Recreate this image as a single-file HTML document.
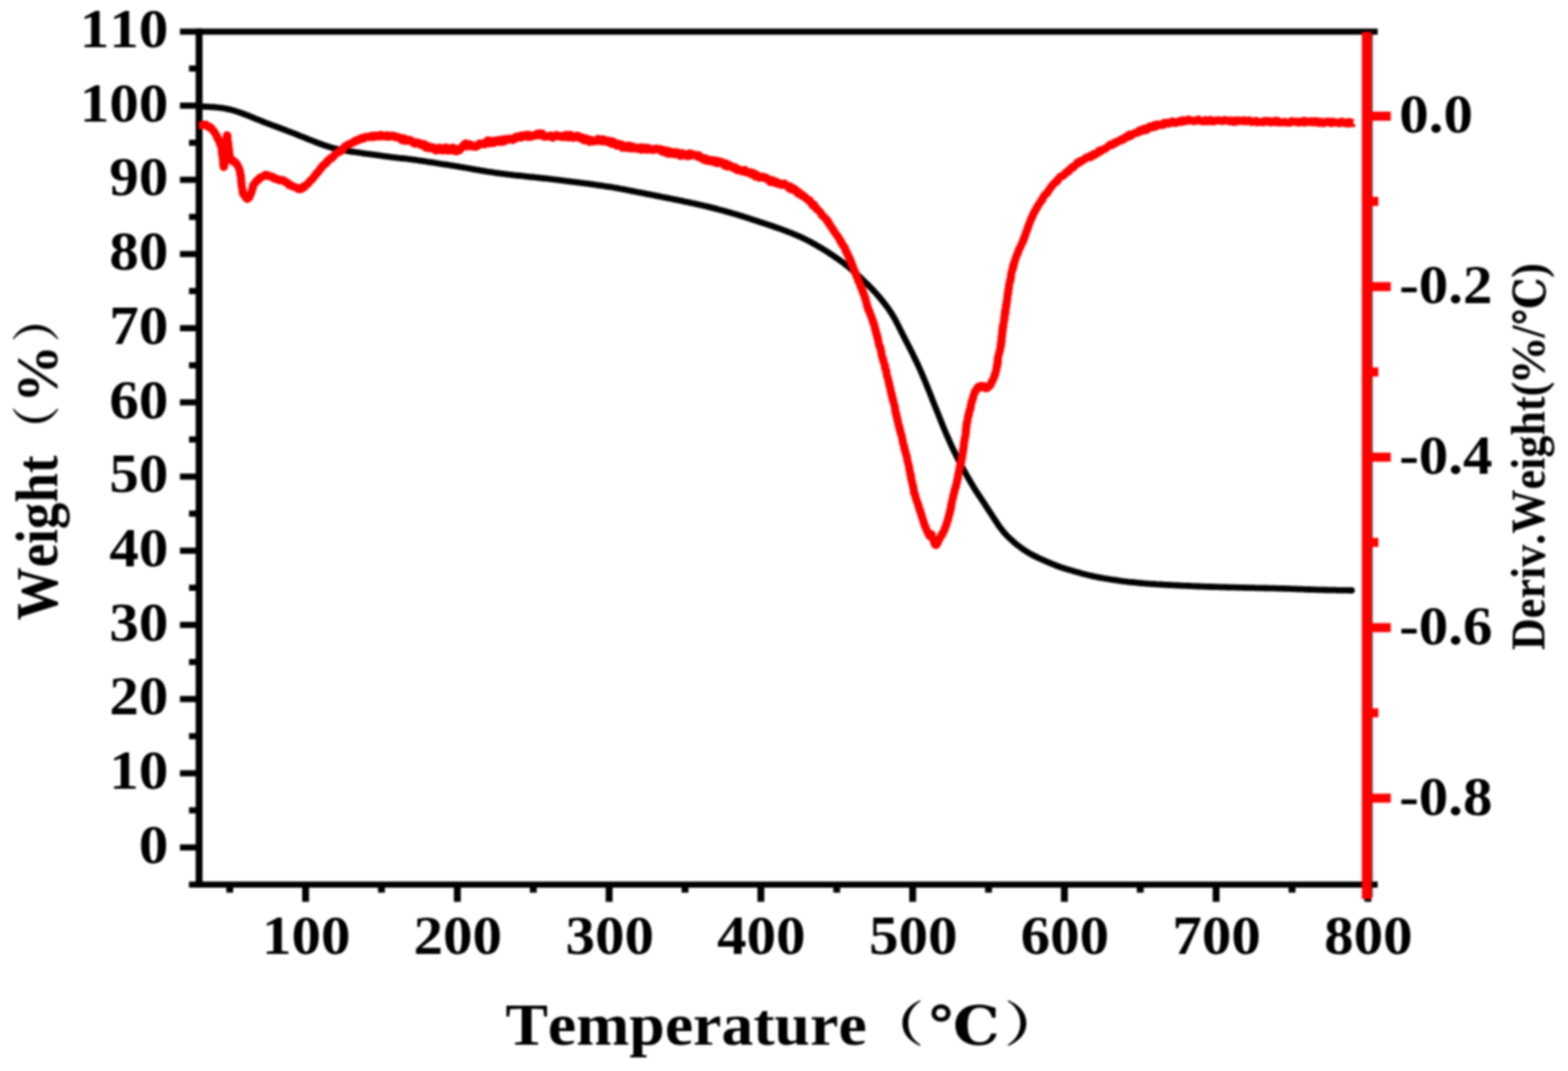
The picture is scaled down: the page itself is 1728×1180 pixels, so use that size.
<!DOCTYPE html>
<html lang="en"><head><meta charset="utf-8"><title>TG / DTG curve</title>
<style>html,body{margin:0;padding:0;background:#fff;}body{width:1728px;height:1180px;overflow:hidden;}svg{display:block;}text{font-family:"Liberation Serif","Noto Serif CJK SC",serif;font-weight:bold;fill:#000;font-kerning:none;}</style>
</head><body>
<svg width="1728" height="1180" viewBox="0 0 1728 1180">
<rect width="1728" height="1180" fill="#fff"/>
<defs><filter id="soft" x="0" y="0" width="1728" height="1180" filterUnits="userSpaceOnUse" color-interpolation-filters="sRGB"><feGaussianBlur stdDeviation="1"/></filter></defs>
<g filter="url(#soft)">
<g id="plot">
<g stroke="#000" stroke-width="6.8" fill="none">
<line x1="198.3" y1="34.8" x2="1518.3" y2="34.8"/>
<line x1="208.3" y1="974.7" x2="1518.3" y2="974.7"/>
<line x1="198.3" y1="933.7" x2="219.4" y2="933.7"/>
<line x1="208.3" y1="892.8" x2="219.4" y2="892.8"/>
<line x1="198.3" y1="852.0" x2="219.4" y2="852.0"/>
<line x1="208.3" y1="811.1" x2="219.4" y2="811.1"/>
<line x1="198.3" y1="770.2" x2="219.4" y2="770.2"/>
<line x1="208.3" y1="729.4" x2="219.4" y2="729.4"/>
<line x1="198.3" y1="688.5" x2="219.4" y2="688.5"/>
<line x1="208.3" y1="647.6" x2="219.4" y2="647.6"/>
<line x1="198.3" y1="606.8" x2="219.4" y2="606.8"/>
<line x1="208.3" y1="565.9" x2="219.4" y2="565.9"/>
<line x1="198.3" y1="525.1" x2="219.4" y2="525.1"/>
<line x1="208.3" y1="484.2" x2="219.4" y2="484.2"/>
<line x1="198.3" y1="443.3" x2="219.4" y2="443.3"/>
<line x1="208.3" y1="402.5" x2="219.4" y2="402.5"/>
<line x1="198.3" y1="361.6" x2="219.4" y2="361.6"/>
<line x1="208.3" y1="320.7" x2="219.4" y2="320.7"/>
<line x1="198.3" y1="279.9" x2="219.4" y2="279.9"/>
<line x1="208.3" y1="239.0" x2="219.4" y2="239.0"/>
<line x1="198.3" y1="198.1" x2="219.4" y2="198.1"/>
<line x1="208.3" y1="157.3" x2="219.4" y2="157.3"/>
<line x1="198.3" y1="116.4" x2="219.4" y2="116.4"/>
<line x1="208.3" y1="75.5" x2="219.4" y2="75.5"/>
</g>
<g stroke="#000" stroke-width="7.6" fill="none">
<line x1="219.4" y1="31.4" x2="219.4" y2="978.1"/>
<line x1="253.2" y1="974.7" x2="253.2" y2="983.5"/>
<line x1="336.8" y1="974.7" x2="336.8" y2="993.6"/>
<line x1="420.4" y1="974.7" x2="420.4" y2="983.5"/>
<line x1="504.0" y1="974.7" x2="504.0" y2="993.6"/>
<line x1="587.7" y1="974.7" x2="587.7" y2="983.5"/>
<line x1="671.3" y1="974.7" x2="671.3" y2="993.6"/>
<line x1="754.9" y1="974.7" x2="754.9" y2="983.5"/>
<line x1="838.5" y1="974.7" x2="838.5" y2="993.6"/>
<line x1="922.1" y1="974.7" x2="922.1" y2="983.5"/>
<line x1="1005.8" y1="974.7" x2="1005.8" y2="993.6"/>
<line x1="1089.4" y1="974.7" x2="1089.4" y2="983.5"/>
<line x1="1173.0" y1="974.7" x2="1173.0" y2="993.6"/>
<line x1="1256.6" y1="974.7" x2="1256.6" y2="983.5"/>
<line x1="1340.2" y1="974.7" x2="1340.2" y2="993.6"/>
<line x1="1423.9" y1="974.7" x2="1423.9" y2="983.5"/>
<line x1="1507.5" y1="974.7" x2="1507.5" y2="993.6"/>
</g>
<line x1="1511.7" y1="36" x2="1511.7" y2="989" stroke="#4a0d0d" stroke-width="2.2" opacity="0.8"/>
<g stroke="#f00" fill="none">
<line x1="1506.1" y1="35.2" x2="1506.1" y2="990.5" stroke-width="10.6"/>
<g stroke-width="10.0">
<line x1="1506.5" y1="128.0" x2="1532.7" y2="128.0"/>
<line x1="1506.5" y1="221.9" x2="1519" y2="221.9"/>
<line x1="1506.5" y1="315.8" x2="1532.7" y2="315.8"/>
<line x1="1506.5" y1="409.8" x2="1519" y2="409.8"/>
<line x1="1506.5" y1="503.7" x2="1532.7" y2="503.7"/>
<line x1="1506.5" y1="597.6" x2="1519" y2="597.6"/>
<line x1="1506.5" y1="691.5" x2="1532.7" y2="691.5"/>
<line x1="1506.5" y1="785.4" x2="1519" y2="785.4"/>
<line x1="1506.5" y1="879.4" x2="1532.7" y2="879.4"/>
</g>
</g>
<polyline fill="none" stroke="#000" stroke-width="6.8" stroke-linejoin="round" stroke-linecap="round" points="219.7,117.2 221.7,117.3 223.7,117.4 225.7,117.5 227.7,117.6 229.7,117.7 231.7,117.8 233.7,117.9 235.7,118.0 237.7,118.2 239.7,118.3 241.7,118.6 243.7,118.8 245.7,119.1 247.7,119.5 249.7,119.9 251.7,120.3 253.7,120.7 255.7,121.3 257.7,121.8 259.7,122.4 261.7,123.1 263.7,123.8 265.7,124.5 267.7,125.2 269.7,126.0 271.7,126.7 273.7,127.5 275.7,128.3 277.7,129.2 279.7,130.0 281.7,130.8 283.7,131.6 285.7,132.4 287.7,133.2 289.7,134.0 291.7,134.8 293.7,135.6 295.7,136.3 297.7,137.1 299.7,137.8 301.7,138.6 303.7,139.3 305.7,140.0 307.7,140.8 309.7,141.5 311.7,142.3 313.7,143.0 315.7,143.8 317.7,144.6 319.7,145.3 321.7,146.1 323.7,146.9 325.7,147.7 327.7,148.5 329.7,149.3 331.7,150.1 333.7,150.9 335.7,151.7 337.7,152.5 339.7,153.3 341.7,154.1 343.7,154.9 345.7,155.7 347.7,156.5 349.7,157.3 351.7,158.0 353.7,158.7 355.7,159.5 357.7,160.2 359.7,160.8 361.7,161.5 363.7,162.1 365.7,162.7 367.7,163.2 369.7,163.7 371.7,164.2 373.7,164.7 375.7,165.1 377.7,165.5 379.7,165.9 381.7,166.2 383.7,166.5 385.7,166.8 387.7,167.1 389.7,167.4 391.7,167.7 393.7,167.9 395.7,168.2 397.7,168.5 399.7,168.8 401.7,169.1 403.7,169.4 405.7,169.6 407.7,169.9 409.7,170.2 411.7,170.4 413.7,170.7 415.7,171.0 417.7,171.2 419.7,171.5 421.7,171.8 423.7,172.1 425.7,172.4 427.7,172.7 429.7,172.9 431.7,173.2 433.7,173.4 435.7,173.6 437.7,173.9 439.7,174.1 441.7,174.3 443.7,174.5 445.7,174.7 447.7,174.9 449.7,175.2 451.7,175.4 453.7,175.7 455.7,176.0 457.7,176.2 459.7,176.5 461.7,176.8 463.7,177.1 465.7,177.4 467.7,177.7 469.7,178.0 471.7,178.3 473.7,178.6 475.7,178.9 477.7,179.2 479.7,179.5 481.7,179.8 483.7,180.1 485.7,180.5 487.7,180.8 489.7,181.1 491.7,181.4 493.7,181.7 495.7,182.0 497.7,182.3 499.7,182.7 501.7,183.0 503.7,183.3 505.7,183.6 507.7,184.0 509.7,184.3 511.7,184.7 513.7,185.0 515.7,185.4 517.7,185.7 519.7,186.1 521.7,186.4 523.7,186.8 525.7,187.1 527.7,187.4 529.7,187.8 531.7,188.1 533.7,188.4 535.7,188.8 537.7,189.1 539.7,189.4 541.7,189.7 543.7,190.0 545.7,190.3 547.7,190.6 549.7,190.9 551.7,191.2 553.7,191.4 555.7,191.7 557.7,191.9 559.7,192.2 561.7,192.4 563.7,192.6 565.7,192.9 567.7,193.1 569.7,193.3 571.7,193.5 573.7,193.7 575.7,193.9 577.7,194.1 579.7,194.4 581.7,194.6 583.7,194.8 585.7,195.0 587.7,195.2 589.7,195.4 591.7,195.6 593.7,195.8 595.7,196.0 597.7,196.3 599.7,196.5 601.7,196.7 603.7,196.9 605.7,197.2 607.7,197.4 609.7,197.7 611.7,197.9 613.7,198.1 615.7,198.4 617.7,198.6 619.7,198.9 621.7,199.1 623.7,199.4 625.7,199.6 627.7,199.8 629.7,200.1 631.7,200.3 633.7,200.6 635.7,200.8 637.7,201.1 639.7,201.4 641.7,201.6 643.7,201.9 645.7,202.1 647.7,202.4 649.7,202.7 651.7,203.0 653.7,203.2 655.7,203.5 657.7,203.8 659.7,204.1 661.7,204.4 663.7,204.7 665.7,205.0 667.7,205.3 669.7,205.6 671.7,205.9 673.7,206.2 675.7,206.5 677.7,206.9 679.7,207.2 681.7,207.6 683.7,208.0 685.7,208.3 687.7,208.7 689.7,209.1 691.7,209.5 693.7,209.9 695.7,210.3 697.7,210.7 699.7,211.1 701.7,211.5 703.7,211.9 705.7,212.2 707.7,212.6 709.7,213.0 711.7,213.4 713.7,213.8 715.7,214.2 717.7,214.6 719.7,215.0 721.7,215.4 723.7,215.8 725.7,216.2 727.7,216.6 729.7,217.0 731.7,217.4 733.7,217.8 735.7,218.2 737.7,218.6 739.7,219.0 741.7,219.4 743.7,219.8 745.7,220.2 747.7,220.6 749.7,221.0 751.7,221.4 753.7,221.9 755.7,222.3 757.7,222.7 759.7,223.1 761.7,223.6 763.7,224.0 765.7,224.4 767.7,224.9 769.7,225.3 771.7,225.8 773.7,226.2 775.7,226.7 777.7,227.2 779.7,227.6 781.7,228.1 783.7,228.6 785.7,229.1 787.7,229.6 789.7,230.1 791.7,230.7 793.7,231.2 795.7,231.8 797.7,232.3 799.7,232.9 801.7,233.4 803.7,234.0 805.7,234.6 807.7,235.2 809.7,235.7 811.7,236.3 813.7,236.9 815.7,237.6 817.7,238.2 819.7,238.8 821.7,239.4 823.7,240.1 825.7,240.7 827.7,241.4 829.7,242.0 831.7,242.7 833.7,243.3 835.7,244.0 837.7,244.7 839.7,245.3 841.7,246.0 843.7,246.6 845.7,247.3 847.7,248.0 849.7,248.6 851.7,249.3 853.7,250.0 855.7,250.7 857.7,251.4 859.7,252.1 861.7,252.8 863.7,253.6 865.7,254.3 867.7,255.1 869.7,255.9 871.7,256.6 873.7,257.4 875.7,258.3 877.7,259.1 879.7,260.0 881.7,260.8 883.7,261.8 885.7,262.7 887.7,263.7 889.7,264.7 891.7,265.7 893.7,266.8 895.7,267.9 897.7,269.0 899.7,270.2 901.7,271.4 903.7,272.5 905.7,273.7 907.7,275.0 909.7,276.2 911.7,277.5 913.7,278.7 915.7,280.1 917.7,281.4 919.7,282.8 921.7,284.1 923.7,285.5 925.7,287.0 927.7,288.4 929.7,289.9 931.7,291.5 933.7,293.0 935.7,294.7 937.7,296.3 939.7,298.1 941.7,299.8 943.7,301.6 945.7,303.5 947.7,305.3 949.7,307.2 951.7,309.1 953.7,311.1 955.7,313.0 957.7,315.0 959.7,317.1 961.7,319.2 963.7,321.3 965.7,323.5 967.7,325.8 969.7,328.1 971.7,330.6 973.7,333.0 975.7,335.6 977.7,338.3 979.7,341.1 981.7,344.1 983.7,347.3 985.7,350.7 987.7,354.4 989.7,358.3 991.7,362.2 993.7,366.2 995.7,370.2 997.7,374.1 999.7,378.0 1001.7,381.9 1003.7,385.8 1005.7,389.8 1007.7,393.9 1009.7,398.0 1011.7,402.3 1013.7,406.7 1015.7,411.2 1017.7,415.9 1019.7,420.7 1021.7,425.6 1023.7,430.6 1025.7,435.6 1027.7,440.7 1029.7,445.7 1031.7,450.7 1033.7,455.8 1035.7,460.8 1037.7,465.8 1039.7,470.7 1041.7,475.5 1043.7,480.2 1045.7,484.7 1047.7,489.1 1049.7,493.4 1051.7,497.6 1053.7,501.7 1055.7,505.7 1057.7,509.6 1059.7,513.3 1061.7,517.1 1063.7,520.7 1065.7,524.3 1067.7,527.8 1069.7,531.3 1071.7,534.6 1073.7,537.9 1075.7,541.1 1077.7,544.2 1079.7,547.2 1081.7,550.2 1083.7,553.2 1085.7,556.2 1087.7,559.3 1089.7,562.3 1091.7,565.4 1093.7,568.5 1095.7,571.6 1097.7,574.7 1099.7,577.7 1101.7,580.5 1103.7,583.2 1105.7,585.7 1107.7,588.0 1109.7,590.1 1111.7,592.1 1113.7,594.0 1115.7,595.8 1117.7,597.6 1119.7,599.3 1121.7,600.9 1123.7,602.4 1125.7,603.9 1127.7,605.3 1129.7,606.6 1131.7,607.9 1133.7,609.1 1135.7,610.3 1137.7,611.4 1139.7,612.4 1141.7,613.4 1143.7,614.4 1145.7,615.3 1147.7,616.2 1149.7,617.1 1151.7,618.0 1153.7,618.8 1155.7,619.7 1157.7,620.5 1159.7,621.4 1161.7,622.2 1163.7,623.0 1165.7,623.8 1167.7,624.5 1169.7,625.2 1171.7,625.8 1173.7,626.5 1175.7,627.1 1177.7,627.7 1179.7,628.3 1181.7,628.8 1183.7,629.4 1185.7,630.0 1187.7,630.5 1189.7,631.1 1191.7,631.7 1193.7,632.2 1195.7,632.7 1197.7,633.2 1199.7,633.7 1201.7,634.2 1203.7,634.6 1205.7,635.1 1207.7,635.5 1209.7,635.9 1211.7,636.3 1213.7,636.7 1215.7,637.0 1217.7,637.4 1219.7,637.7 1221.7,638.0 1223.7,638.4 1225.7,638.7 1227.7,639.0 1229.7,639.2 1231.7,639.5 1233.7,639.8 1235.7,640.1 1237.7,640.3 1239.7,640.6 1241.7,640.8 1243.7,641.1 1245.7,641.3 1247.7,641.5 1249.7,641.7 1251.7,641.9 1253.7,642.1 1255.7,642.3 1257.7,642.5 1259.7,642.7 1261.7,642.8 1263.7,643.0 1265.7,643.1 1267.7,643.3 1269.7,643.4 1271.7,643.5 1273.7,643.7 1275.7,643.8 1277.7,643.9 1279.7,644.0 1281.7,644.1 1283.7,644.3 1285.7,644.4 1287.7,644.5 1289.7,644.6 1291.7,644.7 1293.7,644.8 1295.7,644.9 1297.7,645.0 1299.7,645.1 1301.7,645.2 1303.7,645.3 1305.7,645.4 1307.7,645.4 1309.7,645.5 1311.7,645.6 1313.7,645.7 1315.7,645.8 1317.7,645.9 1319.7,646.0 1321.7,646.0 1323.7,646.1 1325.7,646.2 1327.7,646.3 1329.7,646.3 1331.7,646.4 1333.7,646.5 1335.7,646.5 1337.7,646.6 1339.7,646.7 1341.7,646.7 1343.7,646.8 1345.7,646.8 1347.7,646.9 1349.7,646.9 1351.7,647.0 1353.7,647.1 1355.7,647.1 1357.7,647.1 1359.7,647.2 1361.7,647.2 1363.7,647.3 1365.7,647.3 1367.7,647.4 1369.7,647.4 1371.7,647.5 1373.7,647.5 1375.7,647.6 1377.7,647.6 1379.7,647.7 1381.7,647.7 1383.7,647.8 1385.7,647.8 1387.7,647.8 1389.7,647.9 1391.7,647.9 1393.7,648.0 1395.7,648.0 1397.7,648.1 1399.7,648.1 1401.7,648.1 1403.7,648.2 1405.7,648.2 1407.7,648.3 1409.7,648.3 1411.7,648.4 1413.7,648.4 1415.7,648.5 1417.7,648.6 1419.7,648.6 1421.7,648.7 1423.7,648.8 1425.7,648.8 1427.7,648.9 1429.7,649.0 1431.7,649.1 1433.7,649.1 1435.7,649.2 1437.7,649.3 1439.7,649.4 1441.7,649.5 1443.7,649.5 1445.7,649.6 1447.7,649.7 1449.7,649.7 1451.7,649.8 1453.7,649.8 1455.7,649.9 1457.7,649.9 1459.7,650.0 1461.7,650.0 1463.7,650.1 1465.7,650.1 1467.7,650.2 1469.7,650.2 1471.7,650.2 1473.7,650.3 1475.7,650.3 1477.7,650.3 1479.7,650.4 1481.7,650.4 1483.7,650.4 1485.7,650.4 1487.7,650.5 1489.7,650.5"/>
<polyline fill="none" stroke="#f00" stroke-width="8.7" stroke-linejoin="round" stroke-linecap="butt" points="219.0,138.4 219.7,138.4 220.7,138.3 221.8,137.7 223.1,137.4 224.4,137.2 225.7,137.8 226.9,137.3 228.0,138.7 229.0,138.9 229.9,140.2 230.8,140.5 231.6,139.9 232.6,141.0 233.4,141.6 234.2,143.2 234.8,144.0 235.5,144.1 236.2,145.8 236.9,146.3 237.3,147.4 238.1,148.8 238.6,149.2 239.3,150.6 239.5,151.8 239.9,153.1 240.7,153.5 241.1,154.4 241.6,155.3 242.0,157.0 242.2,158.1 242.8,159.1 243.1,160.0 243.7,161.3 243.8,162.2 244.2,163.2 244.6,164.6 244.2,165.8 244.7,166.8 244.7,167.9 244.5,169.2 245.2,170.4 244.9,171.6 245.6,172.8 245.3,173.8 245.8,175.0 246.0,176.5 245.8,177.9 246.4,179.5 245.9,181.2 246.1,182.3 246.5,183.3 246.5,184.1 246.8,183.4 247.0,183.6 247.2,183.1 247.2,182.1 246.8,181.1 247.6,179.9 247.7,178.6 247.4,177.1 247.7,175.5 247.3,174.0 247.5,172.6 247.5,171.2 247.7,169.9 248.0,168.8 248.5,167.6 248.0,166.4 248.3,165.1 248.2,163.9 249.1,162.7 248.7,161.4 248.5,160.1 248.7,159.0 248.7,157.9 249.5,156.7 248.9,155.9 248.9,155.0 249.9,153.3 249.8,151.8 249.7,150.3 250.2,149.3 250.2,149.0 250.2,148.8 250.8,149.5 250.8,150.2 250.9,151.1 250.8,152.0 250.5,153.2 250.8,154.5 251.3,155.9 251.3,157.5 251.9,158.8 251.5,160.1 251.5,161.0 251.6,162.1 252.3,163.4 252.1,164.7 252.5,166.0 252.5,167.1 252.7,168.5 252.6,169.7 253.1,170.6 253.2,171.7 253.1,172.9 253.7,173.4 253.8,175.2 254.6,175.2 255.5,177.1 256.3,176.3 257.0,178.3 257.8,177.8 258.5,177.8 259.4,179.8 260.3,179.7 261.2,180.7 261.3,181.9 261.7,182.1 262.3,183.1 262.6,184.1 263.4,185.1 263.5,186.3 264.2,187.7 264.6,188.7 264.6,190.0 264.5,191.2 264.8,192.2 265.5,193.2 265.4,194.4 265.6,195.8 265.6,196.9 266.0,198.2 265.8,199.4 265.7,200.6 266.0,201.9 266.3,203.0 266.1,204.1 266.3,205.0 266.7,206.4 266.8,207.7 267.3,208.9 267.5,210.2 267.3,211.4 268.0,212.2 267.8,213.4 268.4,213.6 268.8,214.7 269.7,215.7 270.5,217.5 271.1,217.3 271.8,218.7 272.5,219.3 273.3,217.7 273.9,217.5 274.8,217.5 275.4,215.4 276.0,214.6 276.6,213.1 276.7,212.7 277.3,211.5 277.5,210.2 277.8,209.3 278.4,207.9 278.7,207.1 278.5,205.5 279.2,204.3 279.3,203.5 280.3,202.7 280.7,202.3 281.6,200.5 282.3,200.3 283.0,198.8 283.9,199.0 284.9,197.2 285.7,197.5 286.5,196.0 287.5,195.2 288.4,195.2 289.5,194.8 290.4,193.7 291.4,193.8 292.4,192.6 293.4,192.3 294.6,192.9 295.7,194.1 296.8,193.9 298.0,194.1 299.1,194.3 300.3,195.8 301.3,195.0 302.3,196.9 303.3,197.1 304.3,196.9 305.3,197.1 306.3,198.1 307.3,197.8 308.3,198.8 309.3,198.5 310.2,198.0 311.2,198.2 312.2,198.9 313.2,198.9 314.2,200.9 315.0,200.3 315.9,200.9 316.8,201.3 317.8,202.1 318.6,204.1 319.5,203.4 320.3,204.1 321.2,204.0 322.2,205.5 323.2,205.5 324.1,205.6 325.1,206.2 326.1,206.4 327.1,207.2 328.1,208.0 329.1,208.4 330.1,208.2 331.1,207.3 332.1,208.2 333.1,207.3 334.1,205.5 335.1,206.5 336.0,205.7 336.8,204.0 337.8,203.8 338.6,203.5 339.5,202.3 340.3,201.6 341.0,200.0 342.0,198.9 342.8,198.2 343.4,198.1 344.2,197.3 344.6,196.3 345.6,195.9 346.2,194.6 346.7,194.0 347.5,193.2 348.2,191.4 348.9,191.5 349.9,190.7 350.3,189.5 351.1,188.6 351.8,188.1 352.3,187.1 353.0,185.6 353.8,185.6 354.3,184.5 355.1,182.9 356.0,183.1 356.6,182.2 357.4,181.2 358.1,180.3 358.9,180.2 359.9,179.6 360.6,177.3 361.5,177.8 362.1,176.5 363.0,175.4 363.8,174.7 364.6,173.8 365.4,174.5 366.4,173.6 367.3,173.0 368.2,171.2 368.8,171.0 369.8,169.4 370.6,169.5 371.5,168.3 372.5,167.9 373.4,166.7 374.1,167.5 375.1,166.9 375.9,166.2 376.8,164.6 377.7,164.9 378.5,163.1 379.3,162.2 380.3,161.2 381.2,160.8 381.9,160.0 382.8,159.8 383.8,159.0 384.7,159.3 385.7,158.3 386.7,158.4 387.7,157.5 388.7,157.0 389.7,156.6 390.7,155.3 391.7,156.1 392.7,154.8 393.7,154.0 394.6,155.0 395.6,154.0 396.6,153.5 397.6,152.3 398.6,152.1 399.4,152.4 400.3,153.0 401.1,151.7 402.1,150.9 403.2,151.0 404.6,150.5 405.5,151.1 406.5,151.3 407.6,150.4 408.7,150.2 409.9,149.3 411.1,151.2 412.3,150.0 413.5,150.6 414.8,149.2 416.0,149.4 417.2,150.5 418.4,150.3 419.6,148.4 420.8,150.3 422.0,149.7 423.2,149.3 424.4,150.3 425.6,150.6 426.8,148.8 428.0,149.8 429.1,150.8 430.2,150.3 431.3,150.0 432.3,149.2 433.6,149.8 434.7,150.9 435.8,150.0 436.8,151.4 437.8,150.5 438.8,151.7 439.8,151.7 440.8,152.6 442.0,151.7 443.0,154.5 444.0,154.5 445.0,152.2 446.1,155.3 447.1,153.1 448.2,154.1 449.3,154.1 450.5,155.3 451.6,154.0 452.7,154.7 453.9,156.4 454.9,157.2 455.9,156.4 457.0,158.5 458.0,158.3 459.1,156.5 460.2,157.2 461.3,158.3 462.4,157.7 463.5,159.8 464.5,158.2 465.7,158.8 466.7,158.9 467.8,158.9 469.0,162.5 470.1,162.2 471.3,163.3 472.5,160.8 473.6,163.3 474.7,163.3 475.9,162.5 477.1,162.0 478.2,162.6 479.4,165.5 480.5,165.8 481.7,163.5 482.9,165.5 484.1,162.5 485.3,163.8 486.5,163.1 487.7,165.9 488.9,163.9 490.1,165.3 491.3,162.3 492.4,165.8 493.5,165.1 494.6,163.4 495.6,165.9 496.9,163.2 498.1,163.6 499.2,162.5 500.3,166.3 501.4,166.6 502.4,163.9 503.4,166.8 504.4,164.5 505.3,164.5 506.2,165.9 507.2,164.8 508.0,164.1 508.7,162.7 509.5,161.0 510.2,161.8 511.3,159.2 512.3,158.9 513.2,157.9 514.2,159.1 515.2,161.4 516.3,159.1 517.4,158.6 518.6,161.2 519.7,159.5 520.9,161.2 522.2,161.7 523.4,161.3 524.4,161.8 525.4,160.4 526.4,160.8 527.5,158.6 528.6,157.9 529.6,159.1 530.8,158.0 531.8,158.0 532.9,158.8 534.0,159.1 535.1,156.8 536.2,157.9 537.3,154.6 538.5,154.7 539.6,158.0 540.8,157.7 541.9,157.4 543.1,155.0 544.2,157.7 545.4,156.3 546.6,154.8 547.7,154.5 548.9,154.9 550.0,156.4 551.2,153.8 552.4,156.3 553.5,154.6 554.7,156.3 555.8,153.2 557.0,154.3 558.1,155.0 559.3,152.9 560.5,153.6 561.6,153.0 562.8,152.7 563.9,152.7 565.1,154.4 566.3,152.2 567.4,153.4 568.6,150.4 569.7,151.7 570.9,151.4 572.0,151.4 573.2,149.4 574.4,151.6 575.5,149.2 576.7,150.1 577.8,149.0 579.0,150.3 580.2,148.4 581.3,150.9 582.5,148.3 583.6,151.0 584.8,149.0 585.9,150.5 587.1,150.2 588.3,149.7 589.4,149.4 590.6,147.8 591.7,149.4 592.9,147.0 594.1,148.2 595.2,146.8 596.4,149.4 597.6,147.0 598.7,150.1 599.9,150.8 601.1,150.2 602.3,150.6 603.4,150.1 604.6,150.3 605.7,150.6 606.8,149.0 608.0,150.9 609.1,151.9 610.2,150.6 611.3,150.5 612.4,148.9 613.5,148.6 614.6,150.0 615.7,150.3 616.9,150.6 618.1,149.6 619.3,149.5 620.4,151.3 621.5,151.0 622.7,150.5 623.8,148.4 625.0,149.7 626.3,151.5 627.5,151.1 628.7,148.4 629.9,151.2 631.1,152.0 632.3,151.8 633.5,150.7 634.6,149.8 635.8,151.1 637.0,149.6 638.2,150.4 639.4,152.7 640.5,151.0 641.6,151.2 642.8,153.5 643.9,154.7 645.1,153.9 646.2,152.3 647.3,154.6 648.5,155.5 649.7,156.4 650.8,154.0 652.0,154.4 653.2,155.6 654.4,156.0 655.5,155.3 656.7,155.1 657.9,154.0 659.0,152.9 660.2,155.3 661.3,154.9 662.4,153.5 663.6,155.8 664.8,153.4 666.0,154.0 667.2,154.7 668.4,156.3 669.6,156.7 670.8,155.0 671.9,155.7 673.0,155.4 674.0,158.7 675.0,157.1 676.3,156.0 677.4,158.5 678.4,159.2 679.4,160.7 680.4,158.6 681.4,158.2 682.6,160.0 683.9,159.0 684.9,159.0 685.9,162.9 687.0,160.2 688.2,161.6 689.3,163.0 690.5,161.2 691.8,160.3 693.0,163.4 694.2,160.4 695.4,163.5 696.6,163.6 697.8,161.7 699.0,161.8 700.1,162.3 701.3,163.8 702.4,163.9 703.6,163.3 704.8,164.3 705.9,162.2 707.1,165.1 708.2,164.8 709.4,162.4 710.5,164.4 711.7,164.5 712.9,165.1 714.0,162.7 715.2,164.4 716.3,164.7 717.5,164.1 718.7,165.2 719.8,164.4 721.0,165.1 722.1,163.9 723.3,163.5 724.4,164.0 725.6,164.1 726.8,165.2 727.9,164.2 729.1,167.0 730.2,167.3 731.4,165.1 732.6,166.5 733.7,168.5 734.9,165.8 736.0,169.4 737.2,166.4 738.3,166.7 739.5,169.8 740.7,169.1 741.8,169.3 743.0,167.4 744.1,170.2 745.3,168.7 746.4,167.6 747.6,168.9 748.8,169.4 749.9,171.9 751.1,171.6 752.2,168.5 753.4,170.2 754.6,170.0 755.7,170.9 756.9,172.2 758.0,172.1 759.2,168.9 760.4,172.0 761.5,169.1 762.7,171.1 763.8,170.0 765.0,170.8 766.1,170.6 767.3,171.0 768.4,172.8 769.4,170.9 770.5,171.1 771.6,173.9 772.6,174.0 773.7,173.6 774.8,175.8 775.8,176.2 776.9,174.1 778.0,177.1 779.1,175.6 780.1,175.4 781.2,176.8 782.4,178.0 783.5,176.7 784.7,176.1 785.8,178.3 787.0,176.6 788.2,179.1 789.3,176.8 790.5,180.0 791.6,177.4 792.8,179.7 793.9,177.8 795.1,178.5 796.2,179.9 797.2,179.6 798.3,182.4 799.4,179.6 800.4,180.0 801.5,183.7 802.6,183.3 803.7,181.7 804.7,181.9 805.8,183.4 806.9,183.8 807.9,185.3 809.0,185.5 810.1,184.0 811.1,185.3 812.2,187.6 813.3,186.6 814.3,186.3 815.4,187.8 816.5,188.3 817.6,188.9 818.6,188.4 819.7,187.4 820.8,187.0 821.8,189.9 822.9,189.7 824.0,189.3 825.0,190.4 826.1,191.1 827.2,189.7 828.2,192.3 829.4,191.7 830.4,190.5 831.5,191.4 832.5,194.7 833.6,192.1 834.7,194.1 835.7,194.4 836.8,196.0 837.9,194.9 838.9,194.5 840.0,195.6 841.1,194.9 842.1,196.2 843.2,196.3 844.3,195.6 845.4,197.5 846.4,197.6 847.5,197.5 848.6,200.6 849.6,198.2 850.7,199.2 851.8,198.5 852.8,201.4 853.9,200.4 855.0,199.8 856.1,200.5 857.1,202.6 858.2,201.5 859.2,202.2 860.3,203.6 861.4,203.9 862.4,202.5 863.5,203.1 864.6,202.0 865.6,203.4 866.6,204.0 867.6,204.9 868.6,206.2 869.6,207.7 870.6,205.1 871.6,208.7 872.6,206.6 873.5,208.8 874.7,207.3 875.5,210.1 876.5,208.8 877.6,209.9 878.4,210.9 879.5,213.4 880.5,211.6 881.4,213.7 882.4,214.6 883.4,215.6 884.3,214.4 885.2,216.2 886.2,216.7 887.0,217.7 887.9,217.5 888.8,219.0 889.7,219.7 890.6,220.5 891.6,221.4 892.4,220.6 893.2,222.7 894.1,224.1 894.8,224.0 895.5,226.4 896.4,226.3 897.2,225.4 898.0,228.0 898.8,227.8 899.4,229.1 900.0,230.7 901.0,231.2 901.8,231.3 902.5,232.2 903.3,233.4 904.0,233.6 904.7,234.9 905.4,236.6 906.2,237.5 906.9,237.8 907.9,238.7 908.6,239.9 909.2,240.2 910.0,241.0 910.8,242.6 911.5,242.4 912.1,244.8 912.7,244.2 913.3,245.0 914.2,247.6 915.0,248.2 915.6,249.6 916.2,250.1 916.9,251.2 917.4,252.1 918.1,253.0 918.5,254.2 919.1,254.2 920.1,256.1 920.5,256.8 921.2,258.0 921.6,258.5 922.3,259.1 923.0,260.2 923.9,261.7 924.3,261.7 924.7,262.6 925.6,264.8 926.1,266.0 926.7,265.6 927.6,267.5 928.0,269.1 928.4,269.4 929.0,270.7 929.4,271.0 930.3,271.8 931.0,273.0 931.6,274.1 931.6,275.2 932.3,277.1 932.8,278.2 933.7,278.4 934.3,280.4 934.4,281.5 935.2,282.5 935.9,283.4 936.4,284.2 936.2,285.8 937.1,286.1 937.1,288.0 938.0,288.5 938.5,289.5 938.4,290.9 939.1,291.8 939.6,293.0 940.0,293.7 940.4,295.0 940.6,296.4 941.3,297.2 941.7,298.9 941.8,299.5 942.7,300.0 943.0,301.8 943.3,302.5 943.9,304.3 944.0,304.9 944.8,305.8 945.1,306.8 945.7,308.1 945.7,309.4 946.1,309.6 946.8,311.1 947.4,312.6 947.8,312.8 948.2,314.8 948.3,315.6 949.1,317.0 949.6,317.8 949.6,318.5 950.4,319.8 950.8,320.5 950.9,322.4 951.6,323.1 951.7,324.0 952.5,324.9 952.6,326.4 953.2,326.9 953.2,328.6 954.0,329.5 954.0,330.9 954.3,331.7 954.4,332.5 955.0,333.6 955.2,334.8 955.5,335.9 955.4,336.7 956.0,338.5 956.5,338.6 956.6,340.5 957.1,341.4 957.4,342.4 958.4,342.9 958.5,344.8 958.8,345.5 959.3,346.8 960.0,348.1 960.6,349.1 960.4,349.9 960.8,350.8 961.0,351.6 961.9,353.1 962.3,354.0 962.0,355.4 962.6,356.2 963.3,356.8 963.3,358.0 964.0,359.5 963.9,360.7 964.1,361.8 965.1,363.5 964.8,364.3 965.4,365.8 966.0,367.2 965.7,368.2 966.4,369.1 966.9,370.1 966.6,370.7 967.4,372.3 967.2,373.4 967.9,374.5 967.8,375.3 968.0,376.6 968.3,377.9 968.6,379.0 968.8,380.5 969.2,381.7 970.1,382.4 970.4,383.7 970.6,385.4 970.6,386.0 971.2,387.1 971.3,388.8 971.3,389.6 971.7,390.9 971.7,391.8 972.0,392.8 972.7,394.4 973.3,395.2 973.2,396.5 973.4,397.6 973.8,399.3 974.2,399.9 974.8,401.1 975.2,402.1 975.4,403.2 975.2,404.8 975.6,405.7 975.8,406.7 976.7,407.9 976.9,409.5 976.8,409.9 976.9,411.6 977.3,412.7 977.4,414.0 977.9,415.0 978.0,415.7 978.7,417.4 978.9,418.1 979.0,419.7 979.2,420.7 979.9,421.6 979.8,423.1 979.9,423.8 980.5,425.3 980.6,426.3 981.2,427.7 981.4,429.0 981.3,429.7 981.8,431.2 981.8,432.4 982.3,433.6 983.0,434.8 982.6,435.7 983.2,437.1 983.3,438.3 984.0,439.0 983.7,440.2 984.3,441.4 984.6,442.3 984.8,443.8 985.2,444.7 985.6,446.3 985.8,447.1 986.1,448.3 986.4,449.3 986.4,451.0 986.7,451.9 986.6,453.1 987.0,454.5 987.2,455.1 988.0,456.4 987.7,457.4 988.1,459.0 988.6,459.8 988.9,461.3 988.8,462.6 989.6,463.9 989.4,464.5 989.9,466.0 989.9,467.0 990.2,468.3 991.0,469.6 991.1,470.4 991.0,472.0 991.9,473.1 991.8,473.9 992.1,475.3 992.7,476.2 992.6,477.7 992.9,478.5 993.7,479.9 993.9,481.4 994.1,482.5 994.2,483.2 994.8,485.0 994.7,485.6 994.9,487.0 995.0,488.0 995.6,489.0 995.6,489.7 996.3,491.4 996.5,492.4 996.9,493.2 996.6,494.7 997.1,495.8 997.4,497.0 998.2,498.0 998.0,499.1 998.4,500.1 998.6,501.5 999.1,502.0 999.4,503.0 999.6,504.8 999.8,505.4 999.8,506.6 1000.0,507.4 1000.5,508.6 1000.6,509.8 1001.0,510.8 1001.3,512.3 1001.6,513.3 1001.9,514.2 1002.0,515.5 1002.1,516.7 1002.2,517.7 1002.6,518.8 1002.9,520.0 1003.0,520.9 1003.1,522.6 1003.5,523.6 1004.2,524.6 1004.2,525.8 1003.9,526.8 1004.4,528.4 1004.6,529.1 1005.1,530.5 1005.0,531.5 1005.6,533.1 1005.6,533.8 1006.1,535.1 1006.5,536.4 1006.4,537.7 1006.9,538.8 1006.9,540.0 1007.4,541.2 1007.2,542.4 1007.4,543.6 1008.1,544.6 1008.7,545.6 1008.7,546.7 1009.3,548.0 1009.3,548.9 1009.7,549.8 1009.9,551.2 1010.5,551.9 1010.7,553.0 1011.4,554.4 1011.5,555.2 1011.8,556.0 1012.4,557.0 1012.4,558.5 1012.9,559.9 1013.6,560.9 1013.5,562.1 1014.3,562.7 1014.0,563.5 1014.7,565.1 1015.2,566.5 1015.7,567.3 1015.6,568.4 1015.9,569.6 1016.3,570.3 1016.9,571.3 1016.9,572.6 1017.1,573.0 1017.7,574.6 1018.3,576.0 1018.5,577.6 1019.0,578.2 1019.3,579.9 1020.0,580.4 1020.1,581.0 1020.8,582.9 1020.8,583.3 1021.6,585.0 1022.3,586.1 1022.5,587.4 1022.9,587.6 1023.5,589.0 1023.8,589.2 1024.3,590.6 1025.2,589.7 1025.6,589.1 1026.4,588.4 1026.8,589.0 1026.9,589.7 1027.4,591.6 1027.5,592.7 1028.1,593.8 1028.5,594.8 1029.1,596.0 1029.3,597.3 1029.7,597.9 1030.3,599.9 1030.9,599.2 1031.6,600.5 1032.3,600.3 1032.5,598.5 1033.3,598.3 1033.9,597.0 1034.5,595.0 1035.3,594.0 1035.5,593.7 1036.0,592.5 1036.8,591.0 1037.3,590.7 1037.7,589.4 1037.8,588.3 1038.7,588.4 1039.2,586.6 1039.4,586.4 1040.3,585.2 1040.8,584.0 1040.9,582.7 1041.2,582.3 1042.0,580.9 1042.4,580.1 1042.4,578.8 1042.8,577.9 1043.3,577.4 1043.5,575.8 1044.1,574.5 1044.2,573.5 1045.0,572.3 1044.8,571.4 1045.2,570.2 1045.2,569.2 1045.7,568.4 1046.3,566.9 1046.2,565.7 1046.4,565.0 1047.2,563.6 1046.9,562.7 1047.6,561.3 1048.0,560.2 1048.3,559.0 1047.9,558.0 1048.1,556.8 1048.4,555.8 1048.9,554.7 1048.9,553.3 1049.1,552.3 1049.2,551.3 1049.8,550.0 1050.2,548.8 1050.4,547.7 1050.4,546.7 1050.5,545.5 1051.3,544.2 1051.5,543.2 1051.7,542.1 1051.9,541.2 1051.8,540.2 1052.2,539.3 1052.8,538.2 1052.8,537.2 1053.4,536.6 1053.7,535.7 1053.6,534.2 1054.1,533.1 1054.2,532.5 1054.7,530.9 1054.6,530.2 1054.9,529.4 1055.0,528.2 1055.8,526.8 1055.8,526.1 1055.5,524.5 1055.9,523.4 1056.3,522.3 1056.4,521.0 1056.6,520.2 1057.1,519.1 1057.1,517.9 1057.7,516.6 1057.4,515.4 1058.2,514.6 1057.9,513.1 1058.6,512.3 1058.5,510.7 1059.2,509.5 1059.5,508.4 1059.1,507.6 1059.6,506.4 1060.2,505.2 1059.8,503.8 1060.2,503.0 1060.6,501.9 1060.9,500.7 1060.8,499.6 1061.2,498.2 1061.2,497.3 1061.1,496.4 1061.2,495.2 1062.0,494.0 1061.9,492.7 1062.2,491.9 1062.0,490.6 1062.3,489.3 1062.3,488.4 1062.4,487.2 1063.0,486.3 1062.8,484.9 1063.1,483.9 1063.2,483.0 1063.8,481.6 1063.7,480.5 1064.1,479.4 1064.2,478.4 1064.2,477.2 1064.2,476.2 1064.7,475.2 1064.4,473.8 1064.5,472.7 1064.7,471.3 1065.2,470.2 1064.9,469.1 1065.4,467.9 1065.3,466.7 1065.3,465.4 1066.1,464.7 1066.3,463.1 1066.4,462.5 1066.5,461.0 1066.5,459.9 1066.6,458.8 1067.4,457.9 1067.9,456.6 1067.6,455.5 1067.8,454.2 1068.6,452.9 1068.5,452.4 1069.0,450.9 1069.5,450.2 1069.7,448.7 1069.9,448.0 1069.7,446.5 1070.1,445.7 1070.5,444.3 1071.0,443.2 1070.7,442.0 1071.4,441.1 1071.8,440.3 1072.3,439.3 1072.4,437.8 1072.6,436.3 1072.9,435.6 1073.4,434.5 1074.3,433.1 1074.2,431.6 1074.7,431.0 1075.1,430.4 1076.0,429.7 1076.2,429.0 1077.1,427.0 1077.7,426.7 1078.5,425.8 1079.4,426.4 1080.4,426.9 1081.4,425.0 1082.6,426.0 1083.8,425.1 1085.1,425.8 1086.3,427.9 1087.3,427.5 1088.3,427.5 1089.1,426.7 1090.0,425.8 1090.7,424.2 1091.5,424.5 1091.9,423.2 1092.8,421.8 1092.9,420.4 1093.6,420.2 1094.3,418.3 1094.7,417.5 1095.2,416.4 1095.5,415.4 1095.8,413.9 1096.4,413.7 1096.9,412.0 1096.7,411.1 1097.1,410.3 1097.6,409.2 1097.9,407.9 1098.1,406.6 1098.1,405.7 1098.2,404.5 1099.1,403.5 1099.1,402.4 1098.8,401.4 1099.5,400.3 1099.7,398.8 1099.3,397.7 1099.8,396.7 1099.6,395.4 1099.7,394.2 1100.2,392.7 1100.6,391.4 1100.6,390.4 1100.9,389.5 1101.3,388.5 1101.5,387.3 1102.0,386.2 1102.1,384.5 1102.4,383.5 1102.7,382.5 1102.6,381.0 1103.3,380.2 1102.7,379.1 1103.0,377.8 1103.7,376.7 1104.0,375.4 1103.5,374.4 1103.8,373.1 1104.1,372.1 1103.7,370.8 1104.5,369.7 1104.3,368.5 1104.6,367.4 1104.2,366.3 1104.7,365.3 1105.1,364.1 1104.5,363.0 1104.8,361.7 1105.6,360.6 1105.1,359.6 1105.9,358.2 1105.7,357.4 1105.7,356.1 1106.1,355.1 1106.5,354.0 1106.5,352.4 1107.1,351.2 1106.6,350.0 1107.0,348.8 1107.4,347.9 1107.3,346.9 1107.7,345.6 1107.3,344.7 1108.3,343.6 1107.7,342.4 1108.0,341.5 1108.3,340.2 1108.6,339.0 1109.0,338.0 1108.4,337.0 1109.2,335.6 1109.4,334.6 1109.4,333.3 1109.3,331.9 1110.0,331.0 1110.0,330.0 1110.2,328.6 1110.2,327.6 1110.2,326.4 1110.4,325.2 1110.5,323.8 1111.3,322.8 1110.9,321.7 1111.0,320.4 1111.1,319.2 1111.9,317.9 1111.8,316.9 1111.8,315.8 1111.8,314.4 1112.2,313.4 1112.6,312.4 1112.7,311.4 1113.1,310.3 1113.0,308.6 1113.9,307.7 1113.9,306.4 1114.2,305.3 1114.2,303.9 1114.2,303.2 1114.3,301.7 1114.7,300.5 1114.9,299.7 1115.2,298.3 1115.9,297.4 1115.7,296.3 1116.5,295.3 1116.1,294.1 1117.0,293.3 1116.7,291.9 1117.4,290.5 1117.8,290.0 1117.8,288.9 1118.5,287.3 1118.7,286.6 1119.0,285.6 1119.4,283.9 1119.9,282.9 1120.2,282.1 1120.5,281.4 1120.7,280.2 1121.5,279.7 1121.6,278.7 1122.4,277.1 1122.5,275.8 1122.9,274.6 1123.3,274.2 1124.0,273.2 1124.6,271.9 1125.1,270.8 1125.4,269.8 1125.8,268.9 1126.6,267.7 1126.8,266.7 1127.7,265.7 1127.7,264.2 1128.6,263.2 1128.5,261.7 1129.3,261.1 1129.5,260.4 1129.9,259.5 1130.2,258.1 1130.6,256.2 1131.2,255.2 1131.4,254.5 1131.9,253.8 1132.1,251.9 1132.9,251.4 1132.7,249.8 1133.2,249.3 1133.7,248.4 1134.0,247.0 1134.5,246.2 1135.2,244.6 1135.5,243.2 1135.9,242.0 1136.5,241.3 1136.8,239.8 1137.5,239.1 1137.9,238.7 1138.2,236.7 1138.8,235.7 1139.2,234.6 1139.9,234.2 1140.6,232.6 1140.9,231.5 1141.6,230.4 1141.9,230.3 1142.8,229.1 1143.2,227.3 1144.0,226.6 1144.6,225.1 1145.1,224.8 1145.9,223.8 1146.6,222.3 1147.2,221.5 1147.6,221.4 1148.6,220.4 1148.8,218.5 1149.9,217.3 1150.6,216.1 1151.2,215.4 1151.6,214.4 1152.3,214.5 1153.3,212.9 1154.0,212.7 1154.4,212.3 1155.4,210.0 1155.8,209.9 1156.6,208.7 1157.3,207.6 1158.4,205.9 1159.0,205.6 1159.6,204.3 1160.3,203.5 1161.1,202.7 1161.9,201.7 1162.4,201.5 1163.3,200.4 1164.1,200.7 1165.1,198.3 1165.8,199.0 1166.4,196.9 1167.2,196.2 1168.1,194.9 1169.0,195.0 1169.7,194.2 1170.7,194.2 1171.6,193.1 1172.6,192.7 1173.4,192.4 1174.3,190.5 1175.4,189.8 1176.2,188.9 1177.0,188.3 1177.8,188.9 1178.9,187.3 1179.7,185.7 1180.6,185.2 1181.5,184.0 1182.6,184.7 1183.4,184.0 1184.4,182.8 1185.4,181.9 1186.4,180.4 1187.3,178.9 1188.2,180.2 1189.3,179.0 1190.1,177.4 1191.2,178.1 1192.2,177.4 1193.3,176.3 1194.4,176.1 1195.5,175.5 1196.5,173.9 1197.6,173.5 1198.7,173.6 1199.7,173.2 1200.8,171.9 1201.9,173.3 1202.9,171.7 1204.0,171.9 1205.0,169.7 1206.0,169.9 1207.0,170.4 1207.9,169.9 1209.0,168.1 1209.9,168.7 1210.9,166.4 1211.9,165.7 1212.9,167.0 1213.8,165.6 1214.9,164.9 1215.8,165.1 1216.8,164.0 1217.8,164.2 1218.8,163.4 1219.7,162.5 1220.8,161.5 1221.7,161.0 1222.8,160.0 1223.7,159.1 1224.7,160.2 1225.7,158.7 1226.7,159.4 1227.8,158.4 1228.7,156.7 1229.7,157.7 1230.7,156.1 1231.7,155.7 1232.7,155.9 1233.9,154.5 1234.9,155.0 1236.0,153.3 1237.0,154.2 1238.1,153.8 1239.2,151.7 1240.2,151.0 1241.3,151.6 1242.4,150.5 1243.5,151.0 1244.5,148.1 1245.6,148.8 1246.7,149.4 1247.8,147.9 1248.8,147.3 1249.9,147.1 1251.0,147.1 1252.0,146.0 1253.1,146.3 1254.2,146.2 1255.2,143.9 1256.3,143.4 1257.3,143.1 1258.4,144.5 1259.5,142.1 1260.6,143.6 1261.7,141.3 1262.7,142.0 1263.8,143.2 1264.8,142.4 1265.9,140.5 1267.0,139.2 1268.0,139.6 1269.1,139.3 1270.2,140.5 1271.3,139.2 1272.3,137.5 1273.4,139.6 1274.6,139.2 1275.7,137.0 1276.9,137.7 1278.0,137.3 1279.2,137.4 1280.3,137.8 1281.5,137.9 1282.7,135.2 1283.8,136.4 1285.0,136.3 1286.1,135.2 1287.3,135.1 1288.5,136.4 1289.6,135.2 1290.8,134.9 1291.9,133.6 1293.1,135.1 1294.2,135.6 1295.4,134.6 1296.6,135.4 1297.7,134.9 1298.9,134.4 1300.0,133.2 1301.2,134.4 1302.4,134.5 1303.5,132.4 1304.7,133.9 1305.8,132.9 1306.9,132.5 1308.1,133.4 1309.2,131.8 1310.4,131.7 1311.6,132.2 1312.7,132.9 1313.9,132.8 1315.1,133.6 1316.2,133.4 1317.2,133.3 1318.2,132.3 1319.1,132.3 1320.1,131.9 1321.0,131.6 1322.1,133.2 1323.1,133.1 1324.3,133.5 1325.5,133.7 1326.9,133.8 1328.4,132.3 1330.0,133.4 1330.9,133.8 1331.8,132.8 1332.7,133.1 1333.7,131.9 1334.7,132.4 1335.7,133.8 1336.7,134.0 1337.8,133.2 1338.9,132.6 1340.0,133.4 1341.1,132.7 1342.3,132.5 1343.4,132.4 1344.6,132.7 1345.8,133.3 1347.0,133.4 1348.3,133.5 1349.5,132.2 1350.8,132.4 1352.1,132.5 1353.4,133.0 1354.7,133.8 1356.0,132.6 1357.3,133.1 1358.7,134.4 1360.0,132.7 1361.0,134.4 1362.1,133.5 1363.2,132.6 1364.2,132.7 1365.3,133.6 1366.5,132.8 1367.6,132.9 1368.7,133.0 1369.9,133.6 1371.0,132.4 1372.2,133.6 1373.4,133.8 1374.6,133.0 1375.8,132.8 1377.0,132.5 1378.2,133.7 1379.4,134.6 1380.6,133.9 1381.8,133.9 1383.0,134.2 1384.3,133.1 1385.5,134.9 1386.7,134.0 1387.9,134.5 1389.2,134.5 1390.4,134.7 1391.6,134.8 1392.8,133.5 1394.0,133.1 1395.2,134.2 1396.4,133.4 1397.6,133.1 1398.8,133.4 1400.0,135.0 1401.2,133.8 1402.4,134.5 1403.6,134.4 1404.8,133.1 1406.0,134.7 1407.2,132.9 1408.4,133.5 1409.6,135.0 1410.8,134.5 1412.1,134.7 1413.3,134.9 1414.5,134.8 1415.7,134.2 1417.0,134.8 1418.2,134.9 1419.4,135.1 1420.6,135.1 1421.8,135.2 1423.0,133.5 1424.2,133.4 1425.4,134.0 1426.6,134.1 1427.8,134.6 1429.0,133.9 1430.1,134.9 1431.3,135.2 1432.4,134.0 1433.5,134.6 1434.7,133.8 1435.8,135.0 1436.8,133.1 1437.9,133.1 1439.0,135.0 1440.0,134.6 1441.3,133.9 1442.7,134.0 1444.0,134.6 1445.3,133.4 1446.5,134.9 1447.8,134.8 1449.0,133.5 1450.2,133.4 1451.5,133.7 1452.7,135.6 1453.8,133.9 1455.0,134.8 1456.2,134.3 1457.3,135.7 1458.4,135.8 1459.5,135.4 1460.6,134.7 1461.7,133.9 1462.8,134.6 1463.9,134.1 1464.9,133.8 1466.0,135.6 1467.0,134.5 1468.0,135.7 1469.0,133.8 1470.0,134.7 1471.4,134.5 1472.9,135.2 1474.3,134.9 1475.8,135.9 1477.2,134.6 1478.6,133.9 1480.0,135.4 1481.3,134.9 1482.6,136.0 1483.9,135.7 1485.1,134.7 1486.2,136.2 1487.3,134.3 1488.3,135.3 1489.3,134.9 1490.1,135.5 1490.9,135.8 1491.5,135.3"/>
</g>
<g id="labels" font-size="61.5">
<text transform="translate(185.6 950.9) scale(1.057 1)" text-anchor="end">0</text>
<text transform="translate(185.6 869.2) scale(1.057 1)" text-anchor="end">10</text>
<text transform="translate(185.6 787.4) scale(1.057 1)" text-anchor="end">20</text>
<text transform="translate(185.6 705.7) scale(1.057 1)" text-anchor="end">30</text>
<text transform="translate(185.6 624.0) scale(1.057 1)" text-anchor="end">40</text>
<text transform="translate(185.6 542.3) scale(1.057 1)" text-anchor="end">50</text>
<text transform="translate(185.6 460.5) scale(1.057 1)" text-anchor="end">60</text>
<text transform="translate(185.6 378.8) scale(1.057 1)" text-anchor="end">70</text>
<text transform="translate(185.6 297.1) scale(1.057 1)" text-anchor="end">80</text>
<text transform="translate(185.6 215.3) scale(1.057 1)" text-anchor="end">90</text>
<text transform="translate(185.6 133.6) scale(1.057 1)" text-anchor="end">100</text>
<text transform="translate(185.6 51.9) scale(1.057 1)" text-anchor="end">110</text>
<text transform="translate(337.4 1051.0) scale(1.057 1)" text-anchor="middle">100</text>
<text transform="translate(504.6 1051.0) scale(1.057 1)" text-anchor="middle">200</text>
<text transform="translate(671.9 1051.0) scale(1.057 1)" text-anchor="middle">300</text>
<text transform="translate(839.1 1051.0) scale(1.057 1)" text-anchor="middle">400</text>
<text transform="translate(1006.4 1051.0) scale(1.057 1)" text-anchor="middle">500</text>
<text transform="translate(1173.6 1051.0) scale(1.057 1)" text-anchor="middle">600</text>
<text transform="translate(1340.8 1051.0) scale(1.057 1)" text-anchor="middle">700</text>
<text transform="translate(1508.1 1051.0) scale(1.057 1)" text-anchor="middle">800</text>
<text transform="translate(1541.9 146.2) scale(1.057 1)">0.0</text>
<text transform="translate(1541.9 334.0) scale(1.057 1)">-0.2</text>
<text transform="translate(1541.9 521.9) scale(1.057 1)">-0.4</text>
<text transform="translate(1541.9 709.7) scale(1.057 1)">-0.6</text>
<text transform="translate(1541.9 897.6) scale(1.057 1)">-0.8</text>
</g>
<text id="xtitle"><tspan x="556.9" y="1151.2" font-size="66.3" textLength="398.2" lengthAdjust="spacingAndGlyphs">Temperature</tspan><tspan x="950.9" y="1148.4" font-size="53.1" textLength="67.7" lengthAdjust="spacingAndGlyphs" font-family='"Liberation Serif","Noto Serif CJK SC",serif'>（</tspan><tspan x="1023.9" y="1151.1" font-size="59.5" textLength="77.8" lengthAdjust="spacingAndGlyphs" font-family='"DejaVu Serif","Liberation Serif","Noto Serif CJK SC",serif'>℃</tspan><tspan x="1106.3" y="1148.4" font-size="53.1" textLength="69.5" lengthAdjust="spacingAndGlyphs" font-family='"Liberation Serif","Noto Serif CJK SC",serif'>）</tspan></text>
<text id="ytitle" transform="rotate(-90)"><tspan x="-683.5" y="63.0" font-size="65.8" textLength="181.7" lengthAdjust="spacingAndGlyphs">Weight</tspan><tspan x="-500.3" y="60.3" font-size="53.0" textLength="53.3" lengthAdjust="spacingAndGlyphs" font-family='"Liberation Serif","Noto Serif CJK SC",serif'>（</tspan><tspan x="-443.8" y="63.3" font-size="66.0" textLength="63.6" lengthAdjust="spacingAndGlyphs">%</tspan><tspan x="-377.1" y="60.3" font-size="53.0" textLength="53.3" lengthAdjust="spacingAndGlyphs" font-family='"Liberation Serif","Noto Serif CJK SC",serif'>）</tspan></text>
<text id="y2title" transform="rotate(-90)"><tspan x="-716.3" y="1702.0" font-size="53.5" textLength="295.8" lengthAdjust="spacingAndGlyphs">Deriv.Weight(</tspan><tspan x="-423.7" y="1702.0" font-size="53.5" textLength="53.4" lengthAdjust="spacingAndGlyphs">%</tspan><tspan x="-372.0" y="1702.0" font-size="53.5" textLength="13.5" lengthAdjust="spacingAndGlyphs">/</tspan><tspan x="-358.0" y="1702.7" font-size="49.2" textLength="52.4" lengthAdjust="spacingAndGlyphs" font-family='"DejaVu Serif","Liberation Serif","Noto Serif CJK SC",serif'>℃</tspan><tspan x="-306.0" y="1702.0" font-size="53.5" textLength="16.2" lengthAdjust="spacingAndGlyphs">)</tspan></text>
</g>
</svg>
</body></html>
